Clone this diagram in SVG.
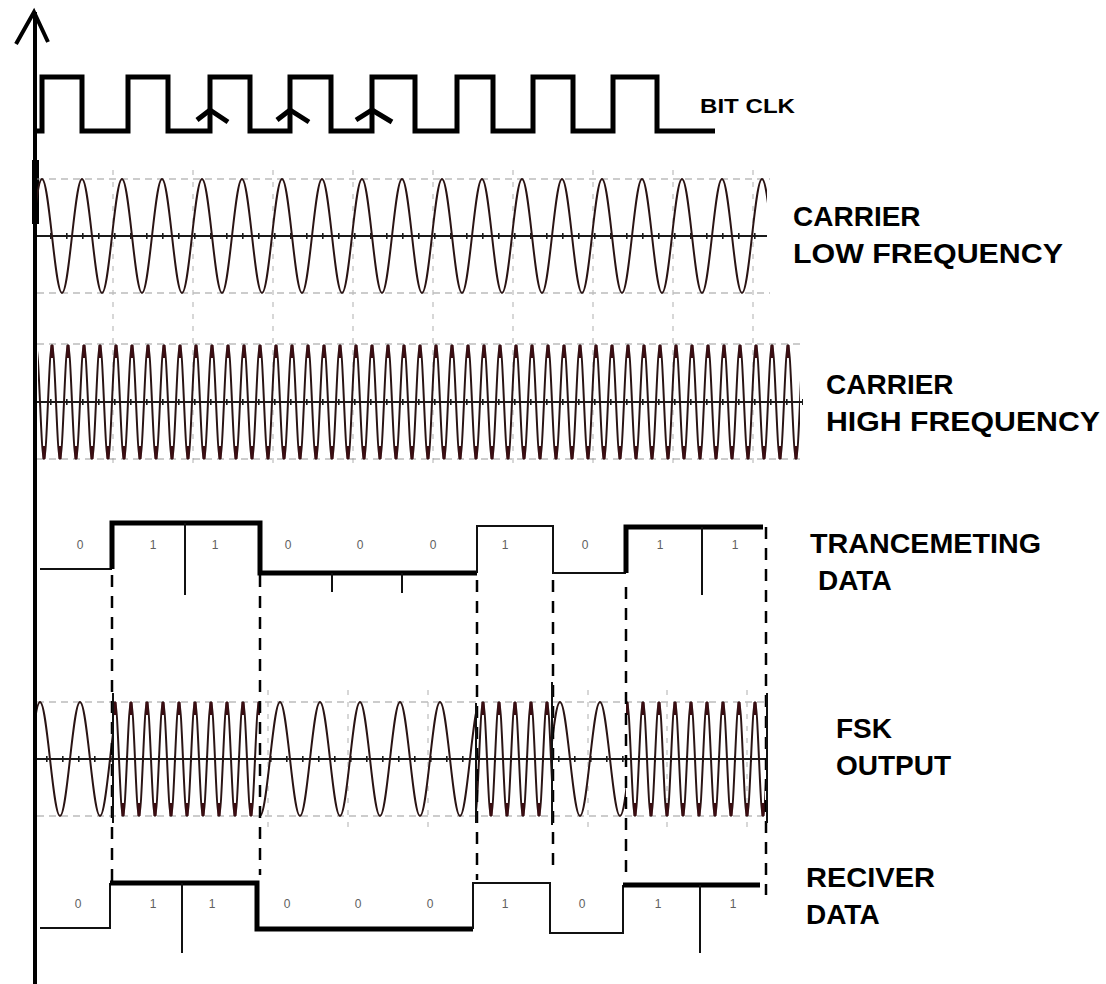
<svg xmlns="http://www.w3.org/2000/svg" width="1106" height="984" viewBox="0 0 1106 984">
<style>
.ax{stroke:#000;stroke-width:4;fill:none}
.clk{stroke:#000;stroke-width:5;fill:none;stroke-linejoin:miter}
.wv{stroke:#2a1414;stroke-width:2;fill:none}
.ctr{stroke:#1a1a1a;stroke-width:2;fill:none}
.tick{stroke:#1a1a1a;stroke-width:6;stroke-dasharray:1.6 14.4;fill:none}
.gh{stroke:#9a9a9a;stroke-width:1.2;stroke-dasharray:7 5;fill:none}
.gv{stroke:#bdbdbd;stroke-width:1.2;stroke-dasharray:5 7;fill:none}
.thin{stroke:#111;stroke-width:2;fill:none}
.thick{stroke:#000;stroke-width:5;fill:none}
.dash{stroke:#000;stroke-width:2.5;stroke-dasharray:12 9;fill:none}
.lbl{font-family:"Liberation Sans",Arial,sans-serif;font-weight:bold;font-size:28px;fill:#000}
.bit{font-family:"Liberation Sans",Arial,sans-serif;font-size:12px;fill:#606060}
</style>
<defs>
<path id="lowp" d="M0,3 C3.619,3 6.739,30.8 10,60 C13.261,89.2 16.381,117 20,117 C23.619,117 26.739,89.2 30,60 C33.261,30.8 36.381,3 40,3"/>
<g id="highp">
<path d="M0,3 C1.448,3 2.696,30.8 4,60 C5.304,89.2 6.552,117 8,117 C9.448,117 10.696,89.2 12,60 C13.304,30.8 14.552,3 16,3" class="wv"/>
<rect x="-1.6" y="3" width="3.2" height="13" fill="#3b0d12"/>
<rect x="14.4" y="3" width="3.2" height="13" fill="#3b0d12"/>
<rect x="6.4" y="104" width="3.2" height="13" fill="#3b0d12"/>
</g>
<pattern id="pLow1" patternUnits="userSpaceOnUse" x="42" y="176" width="40" height="120"><use href="#lowp" class="wv"/></pattern>
<pattern id="pHigh1" patternUnits="userSpaceOnUse" x="52" y="342" width="16" height="120"><use href="#highp"/></pattern>
<pattern id="pLowF" patternUnits="userSpaceOnUse" x="40" y="699" width="40" height="120"><use href="#lowp" class="wv"/></pattern>
<pattern id="pHighF" patternUnits="userSpaceOnUse" x="115" y="699" width="16" height="120"><use href="#highp"/></pattern>
</defs>
<rect width="1106" height="984" fill="#fff"/>

<g id="axis">
<path class="ax" d="M35,12 V984"/>
<rect x="32" y="160" width="7" height="64" fill="#000"/>
<path class="ax" d="M16,44 L34,12 L48,42"/>
</g>

<g id="bit-clk">
<path class="clk" d="M35,131 H42 V77 H82 V131 H128 V77 H168 V131 H210 V77 H250 V131 H290 V77 H331 V131 H372 V77 H415 V131 H457 V77 H493 V131 H533 V77 H573 V131 H613 V77 H657 V131 H715"/>
<path class="clk" d="M197,120 L210,110 L228,122 M277,120 L290,110 L309,122 M356,120 L372,110 L392,122"/>
<text class="lbl" x="700" y="113" style="font-size:21px" textLength="95" lengthAdjust="spacingAndGlyphs">BIT CLK</text>
</g>

<g id="carrier-low">
<path class="gh" d="M37,179 H770 M37,293 H770"/>
<path class="gv" d="M113,170 V466 M193,170 V466 M273,170 V466 M353,170 V466 M433,170 V466 M513,170 V466 M593,170 V466 M673,170 V466 M753,170 V466"/>
<path class="ctr" d="M37,236 H767"/>
<path class="tick" d="M50,236 H767"/>
<rect x="37" y="176" width="730" height="120" fill="url(#pLow1)"/>
<text class="lbl" x="793" y="226">CARRIER</text>
<text class="lbl" x="793" y="263" textLength="270" lengthAdjust="spacingAndGlyphs">LOW FREQUENCY</text>
</g>

<g id="carrier-high">
<path class="gh" d="M37,344 H800 M37,459 H800"/>
<path class="ctr" d="M37,402 H803"/>
<path class="tick" d="M50,402 H803"/>
<rect x="38" y="342" width="762" height="120" fill="url(#pHigh1)"/>
<text class="lbl" x="826" y="394">CARRIER</text>
<text class="lbl" x="826" y="431" textLength="274" lengthAdjust="spacingAndGlyphs">HIGH FREQUENCY</text>
</g>

<g id="tx-data">
<path class="thin" d="M40,569 H112"/>
<path class="thick" d="M112,569 V523 H260 V573 H477"/>
<path class="thin" d="M477,573 V526 H553 V573 H626"/>
<path class="thick" d="M626,573 V527 H763"/>
<path class="thin" d="M185,523 V595 M702,527 V595 M332,573 V592 M402,573 V593"/>
<text class="bit" x="80" y="549" text-anchor="middle">0</text>
<text class="bit" x="153" y="549" text-anchor="middle">1</text>
<text class="bit" x="215" y="549" text-anchor="middle">1</text>
<text class="bit" x="288" y="549" text-anchor="middle">0</text>
<text class="bit" x="360" y="549" text-anchor="middle">0</text>
<text class="bit" x="433" y="549" text-anchor="middle">0</text>
<text class="bit" x="505" y="549" text-anchor="middle">1</text>
<text class="bit" x="585" y="549" text-anchor="middle">0</text>
<text class="bit" x="660" y="549" text-anchor="middle">1</text>
<text class="bit" x="735" y="549" text-anchor="middle">1</text>
<text class="lbl" x="810" y="553" textLength="231" lengthAdjust="spacingAndGlyphs">TRANCEMETING</text>
<text class="lbl" x="818" y="590">DATA</text>
</g>

<g id="fsk-output">
<path class="gh" d="M37,702 H765 M37,816 H765"/>
<path class="gv" d="M268,690 V830 M348,690 V830 M428,690 V830 M588,690 V830 M667,690 V830 M747,690 V830"/>
<path class="ctr" d="M37,759 H767"/>
<path class="tick" d="M46,759 H767"/>
<rect x="37" y="699" width="75" height="120" fill="url(#pLowF)"/>
<rect x="112" y="699" width="148" height="120" fill="url(#pHighF)"/>
<rect x="260" y="699" width="217" height="120" fill="url(#pLowF)"/>
<rect x="477" y="699" width="76" height="120" fill="url(#pHighF)"/>
<rect x="553" y="699" width="73" height="120" fill="url(#pLowF)"/>
<rect x="626" y="699" width="139" height="120" fill="url(#pHighF)"/>
<text class="lbl" x="836" y="738">FSK</text>
<text class="lbl" x="836" y="775">OUTPUT</text>
</g>

<g id="rx-data">
<path class="thin" d="M40,928 H110 V883"/>
<path class="thick" d="M110,883 H257 V929 H473"/>
<path class="thin" d="M473,929 V883 H550 V933 H623 V885"/>
<path class="thick" d="M623,885 H760"/>
<path class="thin" d="M182,883 V953 M700,885 V953"/>
<text class="bit" x="78" y="908" text-anchor="middle">0</text>
<text class="bit" x="153" y="908" text-anchor="middle">1</text>
<text class="bit" x="212" y="908" text-anchor="middle">1</text>
<text class="bit" x="287" y="908" text-anchor="middle">0</text>
<text class="bit" x="358" y="908" text-anchor="middle">0</text>
<text class="bit" x="430" y="908" text-anchor="middle">0</text>
<text class="bit" x="505" y="908" text-anchor="middle">1</text>
<text class="bit" x="582" y="908" text-anchor="middle">0</text>
<text class="bit" x="658" y="908" text-anchor="middle">1</text>
<text class="bit" x="733" y="908" text-anchor="middle">1</text>
<text class="lbl" x="806" y="887" textLength="129" lengthAdjust="spacingAndGlyphs">RECIVER</text>
<text class="lbl" x="806" y="924">DATA</text>
</g>

<g id="connectors">
<path class="dash" d="M112,575 V882 M260,575 V875 M477,580 V880 M553,580 V872 M626,587 V878 M766,527 V895"/>
<path class="thin" d="M113,693 V823 M476,703 V823 M552,682 V825 M767,693 V823"/>
</g>
</svg>
